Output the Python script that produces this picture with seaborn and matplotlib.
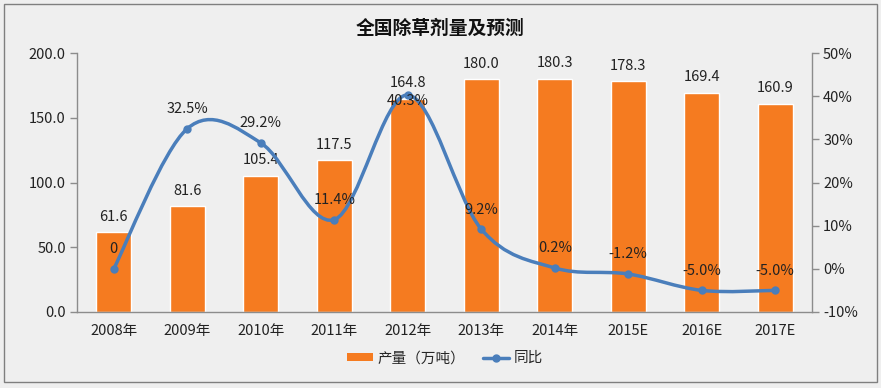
import numpy as np
import pandas as pd
import matplotlib
matplotlib.use("Agg")
import matplotlib.pyplot as plt
import seaborn as sns
from matplotlib.path import Path
from matplotlib.patches import PathPatch, Rectangle, Patch
from matplotlib.lines import Line2D
from matplotlib.ticker import FuncFormatter, MultipleLocator

# 数据
years = ["2008年", "2009年", "2010年", "2011年", "2012年", "2013年", "2014年", "2015E", "2016E", "2017E"]
output = [61.6, 81.6, 105.4, 117.5, 164.8, 180.0, 180.3, 178.3, 169.4, 160.9]
growth = [0.0, 32.5, 29.2, 11.4, 40.3, 9.2, 0.2, -1.2, -5.0, -5.0]
growth_labels = ["0", "32.5%", "29.2%", "11.4%", "40.3%", "9.2%", "0.2%", "-1.2%", "-5.0%", "-5.0%"]

bar_color = "#f57b20"
line_color = "#4a7ebb"
bg = "#efefef"

sns.set_theme(style="white")
plt.rcParams["font.family"] = ["Noto Sans CJK SC", "DejaVu Sans"]
plt.rcParams["axes.unicode_minus"] = False

fig = plt.figure(figsize=(8.81, 3.88), dpi=100, facecolor=bg)
ax = fig.add_axes([0.0874, 0.196, 0.8343, 0.667])
ax.set_facecolor(bg)

df = pd.DataFrame({"year": years, "output": output})
sns.barplot(data=df, x="year", y="output", color=bar_color, saturation=1,
            width=0.48, ax=ax)
ax.set_xlim(-0.5, len(years) - 0.5)
ax.set_ylim(0, 200)
ax.yaxis.set_major_locator(MultipleLocator(50))
ax.yaxis.set_major_formatter(FuncFormatter(lambda v, p: f"{v:.1f}"))
ax.set_xlabel("")
ax.set_ylabel("")

# 柱子标签
for i, v in enumerate(output):
    ax.annotate(f"{v:.1f}", (i, v), xytext=(0, 6), textcoords="offset points",
                ha="center", va="bottom", fontsize=10.5, color="#222222")

# 同比曲线（平滑）
ax2 = ax.twinx()
ax2.set_ylim(-10, 50)
ax2.yaxis.set_major_locator(MultipleLocator(10))
ax2.yaxis.set_major_formatter(FuncFormatter(lambda v, p: f"{v:.0f}%"))

pts = np.column_stack([np.arange(len(growth)), growth]).astype(float)
verts = [pts[0]]
codes = [Path.MOVETO]
n = len(pts)
for i in range(n - 1):
    p0 = pts[i - 1] if i > 0 else pts[i]
    p1 = pts[i]
    p2 = pts[i + 1]
    p3 = pts[i + 2] if i + 2 < n else pts[i + 1]
    c1 = p1 + (p2 - p0) / 6
    c2 = p2 - (p3 - p1) / 6
    verts += [c1, c2, p2]
    codes += [Path.CURVE4] * 3
ax2.add_patch(PathPatch(Path(verts, codes), facecolor="none", edgecolor=line_color,
                        lw=2.5, zorder=3))
ax2.plot(range(len(growth)), growth, ls="none", marker="o", ms=5,
         color=line_color, zorder=4)

for i, (v, lab) in enumerate(zip(growth, growth_labels)):
    if i == 4:
        # 2012年标签压在柱顶附近
        ax2.annotate(lab, (i, v), xytext=(0, -4), textcoords="offset points",
                     ha="center", va="center", fontsize=10.5, color="#222222", zorder=5)
    else:
        ax2.annotate(lab, (i, v), xytext=(0, 9), textcoords="offset points",
                     ha="center", va="bottom", fontsize=10.5, color="#222222")

# 坐标轴样式
for a in (ax, ax2):
    for s in a.spines.values():
        s.set_visible(False)
ax.spines["left"].set_visible(True)
ax.spines["bottom"].set_visible(True)
ax2.spines["right"].set_visible(True)
for s in (ax.spines["left"], ax.spines["bottom"], ax2.spines["right"]):
    s.set_color("#8c8c8c")
    s.set_linewidth(1)

ax.set_xticks(np.arange(-0.5, len(years)), minor=True)
ax.tick_params(axis="x", which="major", length=0, pad=9, labelsize=10.5, colors="#222222")
ax.tick_params(axis="x", which="minor", length=6, width=1, color="#8c8c8c", direction="out")
ax.tick_params(axis="y", which="major", left=True, length=5, width=1, color="#8c8c8c",
               labelsize=10.5, labelcolor="#222222", pad=3)
ax2.tick_params(axis="y", which="major", right=True, length=5, width=1, color="#8c8c8c",
                labelsize=10.5, labelcolor="#222222", pad=3)
ax.grid(False)
ax2.grid(False)

fig.text(0.5, 0.927, "全国除草剂量及预测", ha="center", va="center",
         fontsize=13.5, fontweight="bold", color="#111111")

handles = [Patch(facecolor=bar_color, edgecolor="none"),
           Line2D([0], [0], color=line_color, lw=2.5, marker="o", ms=5)]
fig.legend(handles, ["产量（万吨）", "同比"], loc="center", bbox_to_anchor=(0.505, 0.077),
           ncol=2, frameon=False, fontsize=10.5, handlelength=1.8, handleheight=0.45,
           columnspacing=1.2, handletextpad=0.3)

fig.add_artist(Rectangle((0.005, 0.015), 0.99, 0.975, transform=fig.transFigure,
                         fill=False, edgecolor="#7f7f7f", lw=1))

fig.savefig("out.png", dpi=100, facecolor=bg)
